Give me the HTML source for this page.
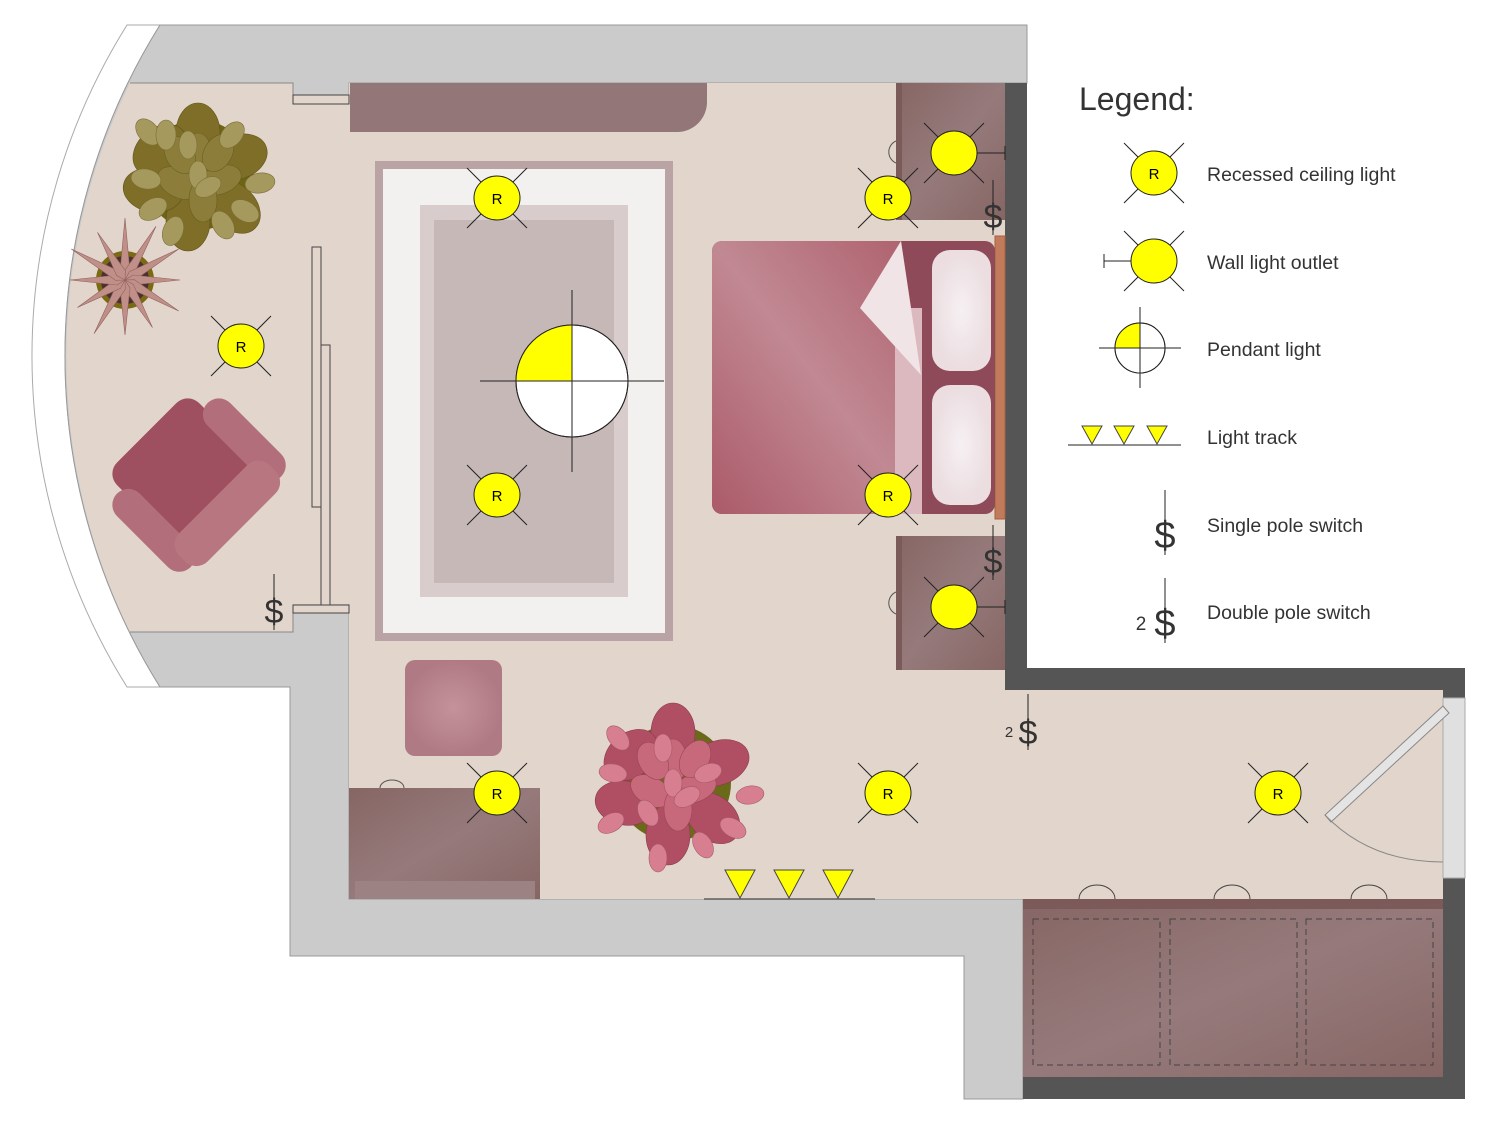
<!DOCTYPE html>
<html><head><meta charset="utf-8"><style>
html,body{margin:0;padding:0;background:#fff;}
svg{display:block;font-family:"Liberation Sans",sans-serif;}
</style></head><body>
<svg width="1500" height="1125" viewBox="0 0 1500 1125" xmlns="http://www.w3.org/2000/svg">
<defs>
<linearGradient id="wood" x1="0" y1="0" x2="1" y2="1"><stop offset="0" stop-color="#866664"/><stop offset="0.5" stop-color="#967a7b"/><stop offset="1" stop-color="#866664"/></linearGradient>
<linearGradient id="blanket" x1="1" y1="0" x2="0" y2="1"><stop offset="0" stop-color="#ad5f6c"/><stop offset="0.5" stop-color="#c18993"/><stop offset="1" stop-color="#ab5a69"/></linearGradient>
<radialGradient id="pil"><stop offset="0" stop-color="#f6f0f2"/><stop offset="1" stop-color="#ebdde0"/></radialGradient>
<radialGradient id="ott"><stop offset="0" stop-color="#c4929a"/><stop offset="1" stop-color="#b07a84"/></radialGradient>
<g id="rx"><line x1="-30" y1="-30" x2="30" y2="30" stroke="#222" stroke-width="1"/><line x1="30" y1="-30" x2="-30" y2="30" stroke="#222" stroke-width="1"/><ellipse cx="0" cy="0" rx="23" ry="22" fill="#ffff00" stroke="#222" stroke-width="1"/></g>
</defs>

<path d="M127,25 A624,624 0 0 0 127,687 L160,687 A624,624 0 0 1 160,25 Z" fill="#fff" stroke="#aaa" stroke-width="1"/>
<path d="M160,25 H1027 V83 H349 V899 H1023 V1099 H964 V956 H290 V687 H160 A624,624 0 0 1 160,25 Z" fill="#cbcbcb" stroke="#999" stroke-width="1"/>
<path d="M130,83 H293 V632 H130 A624,624 0 0 1 130,83 Z" fill="#e2d5cc"/>
<rect x="293" y="104" width="57" height="500" fill="#e2d5cc"/>
<path d="M349,83 H1005 V690 H1443 V899 H349 Z" fill="#e2d5cc"/>
<path d="M130,83 H293 V95" fill="none" stroke="#888" stroke-width="1"/>
<path d="M130,632 H293 V612" fill="none" stroke="#888" stroke-width="1"/>
<rect x="293" y="95" width="56" height="9" fill="#e2d5cc" stroke="#444" stroke-width="1"/>
<rect x="293" y="605" width="56" height="8" fill="#e2d5cc" stroke="#444" stroke-width="1"/>
<rect x="312" y="247" width="9" height="260" fill="#e2d5cc" stroke="#444" stroke-width="1"/>
<rect x="321" y="345" width="9" height="260" fill="#e2d5cc" stroke="#444" stroke-width="1"/>
<rect x="1005" y="83" width="22" height="607" fill="#555"/>
<rect x="1005" y="668" width="460" height="22" fill="#555"/>
<rect x="1443" y="668" width="22" height="431" fill="#555"/>
<rect x="1023" y="1077" width="442" height="22" fill="#555"/>
<rect x="1443" y="698" width="22" height="180" fill="#e0e0e0" stroke="#aaa"/>
<path d="M350,83 H707 V102 A30,30 0 0 1 677,132 H350 Z" fill="#937678"/>
<rect x="375" y="161" width="298" height="480" fill="#b9a3a5"/>
<rect x="383" y="169" width="282" height="464" fill="#f3f1f0"/>
<rect x="420" y="205" width="208" height="392" fill="#d9cccc"/>
<rect x="434" y="220" width="180" height="363" fill="#c7b8b8"/>
<circle cx="572" cy="381" r="56" fill="#fff" stroke="#222"/>
<path d="M572,381 L516,381 A56,56 0 0 1 572,325 Z" fill="#ffff00"/>
<circle cx="572" cy="381" r="56" fill="none" stroke="#222"/>
<line x1="480" y1="381" x2="664" y2="381" stroke="#222"/>
<line x1="572" y1="290" x2="572" y2="472" stroke="#222"/>
<rect x="896" y="83" width="109" height="137" fill="url(#wood)"/>
<rect x="896" y="83" width="6" height="137" fill="#7b5a5a"/>
<rect x="896" y="536" width="109" height="134" fill="url(#wood)"/>
<rect x="896" y="536" width="6" height="134" fill="#7b5a5a"/>
<path d="M896,141 A12,12 0 0 0 896,163" fill="none" stroke="#555"/>
<path d="M896,592 A12,12 0 0 0 896,614" fill="none" stroke="#555"/>
<rect x="995" y="236" width="10" height="283" fill="#c27b5a" stroke="#a56040"/>
<rect x="712" y="241" width="283" height="273" rx="10" fill="#8e4a58"/>
<path d="M722,241 H901 L921,375 V514 H722 A10,10 0 0 1 712,504 V251 A10,10 0 0 1 722,241 Z" fill="url(#blanket)"/>
<rect x="895" y="308" width="27" height="206" fill="#dcb8bf"/>
<path d="M901,241 L860,308 L921,375 Z" fill="#f0e4e6"/>
<rect x="932" y="250" width="59" height="121" rx="18" fill="url(#pil)"/>
<rect x="932" y="385" width="59" height="120" rx="18" fill="url(#pil)"/>
<rect x="405" y="660" width="97" height="96" rx="10" fill="url(#ott)"/>
<rect x="349" y="788" width="191" height="111" fill="url(#wood)"/>
<rect x="355" y="881" width="180" height="18" fill="#9c8283"/>
<path d="M380,788 A12,8 0 0 1 404,788" fill="none" stroke="#555"/>
<rect x="1023" y="899" width="420" height="178" fill="url(#wood)"/>
<rect x="1023" y="899" width="420" height="10" fill="#7d5a5a"/>
<g fill="none" stroke="#444" stroke-dasharray="6,4">
<rect x="1033" y="919" width="127" height="146"/><rect x="1170" y="919" width="127" height="146"/><rect x="1306" y="919" width="127" height="146"/>
</g>
<g fill="none" stroke="#444">
<path d="M1079,899 A18,14 0 0 1 1115,899"/><path d="M1214,899 A18,14 0 0 1 1250,899"/><path d="M1351,899 A18,14 0 0 1 1387,899"/>
</g>
<path d="M1325,815 L1443,706 L1449,713 L1331,822 Z" fill="#e4e4e4" stroke="#888"/>
<path d="M1325,815 Q1370,862 1443,862" fill="none" stroke="#888"/>
<line x1="704" y1="899" x2="875" y2="899" stroke="#222"/>
<g fill="#ffff00" stroke="#444"><path d="M725,870 H755 L740,898 Z"/><path d="M774,870 H804 L789,898 Z"/><path d="M823,870 H853 L838,898 Z"/></g>
<g transform="translate(198,175)">
<circle r="55" fill="#6e6414"/>
<g fill="#7e6e28" stroke="#5e5418" stroke-width="0.6">
<ellipse cx="0" cy="-42" rx="22" ry="30"/><ellipse cx="40" cy="-18" rx="22" ry="30" transform="rotate(70 40 -18)"/><ellipse cx="36" cy="32" rx="22" ry="30" transform="rotate(135 36 32)"/><ellipse cx="-10" cy="46" rx="22" ry="30"/><ellipse cx="-45" cy="15" rx="22" ry="30" transform="rotate(100 -45 15)"/><ellipse cx="-38" cy="-25" rx="22" ry="30" transform="rotate(50 -38 -25)"/>
</g>
<g fill="#8c7e3a" stroke="#6a5f22" stroke-width="0.6">
<ellipse cx="0" cy="-20" rx="14" ry="22"/><ellipse cx="22" cy="5" rx="14" ry="22" transform="rotate(70 22 5)"/><ellipse cx="-20" cy="8" rx="14" ry="22" transform="rotate(-60 -20 8)"/><ellipse cx="5" cy="25" rx="14" ry="22"/><ellipse cx="-18" cy="-20" rx="14" ry="20" transform="rotate(-30 -18 -20)"/><ellipse cx="20" cy="-22" rx="14" ry="20" transform="rotate(30 20 -22)"/>
</g>
<g fill="#a5995e" stroke="#7a6e34" stroke-width="0.6">
<ellipse cx="-50" cy="-43" rx="10" ry="15" transform="rotate(-40 -50 -43)"/><ellipse cx="-32" cy="-40" rx="10" ry="15"/><ellipse cx="34" cy="-40" rx="10" ry="15" transform="rotate(40 34 -40)"/><ellipse cx="62" cy="8" rx="10" ry="15" transform="rotate(80 62 8)"/><ellipse cx="47" cy="36" rx="10" ry="15" transform="rotate(120 47 36)"/><ellipse cx="25" cy="50" rx="10" ry="15" transform="rotate(150 25 50)"/><ellipse cx="-25" cy="56" rx="10" ry="15" transform="rotate(200 -25 56)"/><ellipse cx="-45" cy="34" rx="10" ry="15" transform="rotate(240 -45 34)"/><ellipse cx="-52" cy="4" rx="10" ry="15" transform="rotate(-80 -52 4)"/><ellipse cx="0" cy="0" rx="9" ry="14"/><ellipse cx="-10" cy="-30" rx="9" ry="14"/><ellipse cx="10" cy="12" rx="9" ry="14" transform="rotate(60 10 12)"/>
</g>
</g>
<g transform="translate(125,280)">
<circle r="29" fill="#7a6a10"/><circle r="24" fill="#4a3030"/>
<g fill="#c09088" stroke="#906060" stroke-width="0.6">
<path d="M0,0 L-5,-8 L0,-62 L5,-8 Z"/><path d="M0,0 L-5,-8 L0,-62 L5,-8 Z" transform="rotate(30)"/><path d="M0,0 L-5,-8 L0,-62 L5,-8 Z" transform="rotate(60)"/><path d="M0,0 L-5,-8 L0,-55 L5,-8 Z" transform="rotate(90)"/><path d="M0,0 L-5,-8 L0,-62 L5,-8 Z" transform="rotate(120)"/><path d="M0,0 L-5,-8 L0,-55 L5,-8 Z" transform="rotate(150)"/><path d="M0,0 L-5,-8 L0,-55 L5,-8 Z" transform="rotate(180)"/><path d="M0,0 L-5,-8 L0,-62 L5,-8 Z" transform="rotate(210)"/><path d="M0,0 L-5,-8 L0,-55 L5,-8 Z" transform="rotate(240)"/><path d="M0,0 L-5,-8 L0,-55 L5,-8 Z" transform="rotate(270)"/><path d="M0,0 L-5,-8 L0,-62 L5,-8 Z" transform="rotate(300)"/><path d="M0,0 L-5,-8 L0,-55 L5,-8 Z" transform="rotate(330)"/>
</g>
</g>
<g transform="translate(192,478) rotate(-45)">
<rect x="-58" y="-64" width="116" height="112" rx="16" fill="#9e5060"/>
<rect x="-80" y="-42" width="32" height="104" rx="16" fill="#b26f7b"/>
<rect x="48" y="-42" width="32" height="104" rx="16" fill="#b26f7b"/>
<rect x="-64" y="30" width="128" height="40" rx="16" fill="#b87680"/>
</g>
<g transform="translate(673,783)">
<circle r="58" fill="#6b6a1a"/>
<g fill="#b04f63" stroke="#8a3a4c" stroke-width="0.6">
<ellipse cx="0" cy="-50" rx="22" ry="30"/><ellipse cx="45" cy="-20" rx="22" ry="32" transform="rotate(70 45 -20)"/><ellipse cx="40" cy="35" rx="22" ry="30" transform="rotate(130 40 35)"/><ellipse cx="-5" cy="52" rx="22" ry="30"/><ellipse cx="-48" cy="20" rx="22" ry="30" transform="rotate(100 -48 20)"/><ellipse cx="-42" cy="-28" rx="22" ry="30" transform="rotate(50 -42 -28)"/>
</g>
<g fill="#c8687b" stroke="#9a4556" stroke-width="0.6">
<ellipse cx="0" cy="-22" rx="14" ry="22"/><ellipse cx="22" cy="5" rx="14" ry="22" transform="rotate(70 22 5)"/><ellipse cx="-22" cy="8" rx="14" ry="22" transform="rotate(-60 -22 8)"/><ellipse cx="5" cy="26" rx="14" ry="22"/><ellipse cx="-20" cy="-22" rx="14" ry="20" transform="rotate(-30 -20 -22)"/><ellipse cx="22" cy="-24" rx="14" ry="20" transform="rotate(30 22 -24)"/>
</g>
<g fill="#d77f90" stroke="#a5586a" stroke-width="0.6">
<ellipse cx="-55" cy="-45" rx="9" ry="14" transform="rotate(-40 -55 -45)"/><ellipse cx="-60" cy="-10" rx="9" ry="14" transform="rotate(-80 -60 -10)"/><ellipse cx="77" cy="12" rx="9" ry="14" transform="rotate(80 77 12)"/><ellipse cx="60" cy="45" rx="9" ry="14" transform="rotate(120 60 45)"/><ellipse cx="30" cy="62" rx="9" ry="14" transform="rotate(150 30 62)"/><ellipse cx="-15" cy="75" rx="9" ry="14"/><ellipse cx="-62" cy="40" rx="9" ry="14" transform="rotate(240 -62 40)"/><ellipse cx="0" cy="0" rx="9" ry="14"/><ellipse cx="-10" cy="-35" rx="9" ry="14"/><ellipse cx="14" cy="14" rx="9" ry="14" transform="rotate(60 14 14)"/><ellipse cx="-25" cy="30" rx="9" ry="14" transform="rotate(-30 -25 30)"/><ellipse cx="35" cy="-10" rx="9" ry="14" transform="rotate(70 35 -10)"/>
</g>
</g>
<g stroke="#222"><line x1="954" y1="153" x2="1005" y2="153"/><line x1="1005" y1="146" x2="1005" y2="160"/><line x1="954" y1="607" x2="1005" y2="607"/><line x1="1005" y1="600" x2="1005" y2="614"/></g>
<use href="#rx" x="954" y="153"/><use href="#rx" x="954" y="607"/>
<g font-size="15" text-anchor="middle" fill="#000">
<use href="#rx" x="497" y="198"/><text x="497" y="204">R</text>
<use href="#rx" x="888" y="198"/><text x="888" y="204">R</text>
<use href="#rx" x="241" y="346"/><text x="241" y="352">R</text>
<use href="#rx" x="497" y="495"/><text x="497" y="501">R</text>
<use href="#rx" x="888" y="495"/><text x="888" y="501">R</text>
<use href="#rx" x="497" y="793"/><text x="497" y="799">R</text>
<use href="#rx" x="888" y="793"/><text x="888" y="799">R</text>
<use href="#rx" x="1278" y="793"/><text x="1278" y="799">R</text>
</g>
<g fill="#333" font-family="'Liberation Sans',sans-serif" text-anchor="middle" font-size="34">
<line x1="274" y1="574" x2="274" y2="630" stroke="#222"/><text x="274" y="623">$</text>
<line x1="993" y1="180" x2="993" y2="235" stroke="#222"/><text x="993" y="228">$</text>
<line x1="993" y1="525" x2="993" y2="580" stroke="#222"/><text x="993" y="573">$</text>
<line x1="1028" y1="694" x2="1028" y2="750" stroke="#222"/><text x="1028" y="744">$</text><text x="1009" y="737" font-size="15">2</text>
</g>
<g font-family="'Liberation Sans',sans-serif" fill="#333">
<text x="1079" y="110" font-size="32">Legend:</text>
<g font-size="19.5"><text x="1207" y="181">Recessed ceiling light</text><text x="1207" y="269">Wall light outlet</text><text x="1207" y="356">Pendant light</text><text x="1207" y="444">Light track</text><text x="1207" y="532">Single pole switch</text><text x="1207" y="619">Double pole switch</text></g>
</g>
<use href="#rx" x="1154" y="173"/><text x="1154" y="179" font-size="15" text-anchor="middle">R</text>
<g stroke="#222"><line x1="1104" y1="261" x2="1154" y2="261"/><line x1="1104" y1="254" x2="1104" y2="268"/></g>
<use href="#rx" x="1154" y="261"/>
<circle cx="1140" cy="348" r="25" fill="#fff" stroke="#222"/>
<path d="M1140,348 L1115,348 A25,25 0 0 1 1140,323 Z" fill="#ffff00"/>
<circle cx="1140" cy="348" r="25" fill="none" stroke="#222"/>
<line x1="1099" y1="348" x2="1181" y2="348" stroke="#222"/><line x1="1140" y1="307" x2="1140" y2="388" stroke="#222"/>
<line x1="1068" y1="445" x2="1181" y2="445" stroke="#222"/>
<g fill="#ffff00" stroke="#444"><path d="M1082,426 H1102 L1092,444 Z"/><path d="M1114,426 H1134 L1124,444 Z"/><path d="M1147,426 H1167 L1157,444 Z"/></g>
<g font-family="'Liberation Sans',sans-serif" fill="#333" text-anchor="middle">
<line x1="1165" y1="490" x2="1165" y2="555" stroke="#222"/><text x="1165" y="548" font-size="38">$</text>
<line x1="1165" y1="578" x2="1165" y2="643" stroke="#222"/><text x="1165" y="636" font-size="38">$</text><text x="1141" y="630" font-size="19">2</text>
</g>
</svg>
</body></html>
